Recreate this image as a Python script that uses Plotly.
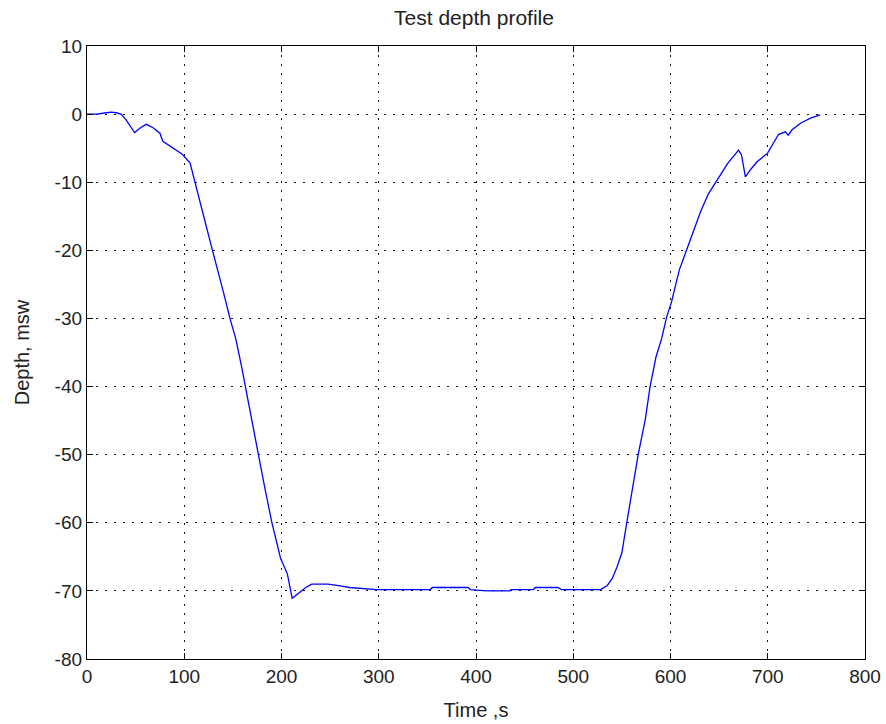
import plotly.graph_objects as go

time_s = [0, 10, 20, 25, 30, 35, 40, 45, 49, 55, 61, 68, 75, 78, 87, 98, 106, 111,
          120, 129, 135, 140, 147, 153, 159, 163, 170, 176, 183, 190, 199, 206, 211,
          215, 219, 225, 231, 240, 248, 262, 270, 298, 320, 353, 355, 380, 392, 394,
          411, 435, 436, 459, 461, 484, 488, 507, 520, 528, 535, 540, 545, 550, 555,
          561, 567, 574, 579, 585, 591, 596, 601, 609, 620, 631, 639, 644, 651, 659,
          670, 673, 675, 677, 682, 689, 700, 706, 711, 718, 721, 725, 734, 744, 754]
depth_msw = [0, 0, 0.2, 0.3, 0.2, 0, -0.8, -1.8, -2.7, -2.0, -1.5, -2.0, -2.8, -4.0,
             -4.8, -5.9, -7.2, -10.1, -15, -20, -23.5, -26, -30, -33, -37.1, -40, -45,
             -49.8, -55, -59.9, -65.2, -67.5, -71.1, -70.6, -70.2, -69.5, -69.0, -69.0,
             -69.0, -69.3, -69.5, -69.8, -69.8, -69.8, -69.5, -69.5, -69.5, -69.8,
             -70.0, -70.0, -69.8, -69.8, -69.5, -69.5, -69.8, -69.8, -69.8, -69.8,
             -69.2, -68.2, -66.5, -64.4, -60, -55.2, -49.8, -44.9, -40, -35.7, -32.9,
             -29.8, -27.6, -22.9, -18.5, -14.3, -11.7, -10.5, -9, -7.2, -5.3, -6.0,
             -7.5, -9.2, -8.2, -7, -5.7, -4.3, -3.0, -2.6, -3.1, -2.3, -1.3, -0.6, -0.1]

x_ticks = [0, 100, 200, 300, 400, 500, 600, 700, 800]
y_ticks = [10, 0, -10, -20, -30, -40, -50, -60, -70, -80]

fig = go.Figure()
fig.add_trace(go.Scatter(x=time_s, y=depth_msw, mode="lines",
                         line=dict(color="#0000ff", width=1.3), showlegend=False))

axis_common = dict(showline=True, linecolor="black", linewidth=1.3, mirror="ticks",
                   ticks="inside", ticklen=6, tickcolor="black", tickwidth=1,
                   showgrid=True, gridcolor="#111", griddash="2px,7px", gridwidth=1.2,
                   zeroline=False, automargin=False,
                   tickfont=dict(size=19, color="#222"),
                   title_font=dict(size=20, color="#222"))

fig.update_xaxes(range=[0, 800], tickvals=x_ticks, ticktext=[str(v) for v in x_ticks],
                 title_text="Time ,s", title_standoff=17, **axis_common)
fig.update_yaxes(range=[-80, 10], tickvals=y_ticks, ticktext=[str(v) for v in y_ticks],
                 title_text="Depth, msw", title_standoff=19, **axis_common)

fig.update_layout(
    width=886, height=724,
    margin=dict(l=87, r=21, t=46, b=65),
    paper_bgcolor="white", plot_bgcolor="white",
    font=dict(family="Liberation Sans, Arial, sans-serif", color="#222"),
    title=dict(text="Test depth profile", x=0.535, xanchor="center", y=0.975,
               yanchor="middle", font=dict(size=21, color="#222")),
)

fig.write_html("out.html")
